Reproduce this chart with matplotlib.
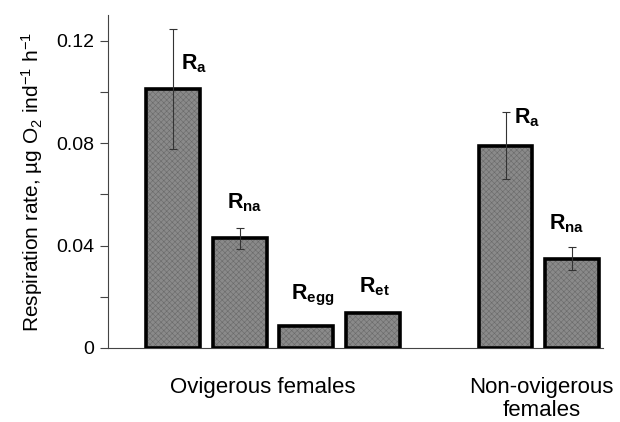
import numpy as np
import matplotlib.pyplot as plt

plt.rcParams['font.family'] = ['Liberation Sans', 'DejaVu Sans']
plt.rcParams['mathtext.fontset'] = 'custom'
plt.rcParams['mathtext.rm'] = 'Liberation Sans'
plt.rcParams['mathtext.it'] = 'Liberation Sans'
plt.rcParams['mathtext.bf'] = 'Liberation Sans:bold'
plt.rcParams['hatch.linewidth'] = 0.4

# data
positions = [0, 1, 2, 3, 5, 6]
rates = [0.101, 0.0428, 0.0084, 0.0136, 0.079, 0.0349]
errors = [0.0234, 0.0041, 0, 0, 0.013, 0.0045]
has_err = [True, True, False, False, True, True]
bar_labels = ['a', 'na', 'egg', 'et', 'a', 'na']
label_x = [0.32, 1.08, 2.10, 3.03, 5.33, 5.92]
label_y = [0.111, 0.0569, 0.0206, 0.0238, 0.090, 0.0487]
groups = ['Ovigerous females', 'Non-ovigerous\nfemales']
group_x = [1.35, 5.54]

fig = plt.figure(figsize=(6.2, 4.22), dpi=100)
ax = fig.add_axes([0.174, 0.1754, 0.799, 0.789])

ax.bar(positions, rates, width=0.81, color='#8a8a8a', edgecolor='#6a6a6a',
       hatch='xxxxxx', linewidth=0, zorder=2)
ax.bar(positions, rates, width=0.81, fill=False, edgecolor='black',
       linewidth=2.6, zorder=3)

ex = [p for p, h in zip(positions, has_err) if h]
ey = [r for r, h in zip(rates, has_err) if h]
ee = [e for e, h in zip(errors, has_err) if h]
ax.errorbar(ex, ey, yerr=ee, fmt='none', ecolor='#333333', elinewidth=0.8,
            capsize=3, capthick=0.8, zorder=4)

for x, y, s in zip(label_x, label_y, bar_labels):
    ax.text(x, y, r'$\mathbf{R_{' + s + '}}$', ha='center', va='center',
            fontsize=15.5)

for x, s in zip(group_x, groups):
    ax.text(x, -0.0112, s, ha='center', va='top', fontsize=16,
            linespacing=1.12, transform=ax.transData)

ax.set_xlim(-0.985, 6.47)
ax.set_ylim(0, 0.13)
ax.set_yticks(np.arange(0, 0.13, 0.02))
ax.set_yticklabels(['0', '', '0.04', '', '0.08', '', '0.12'], fontsize=14)
ax.set_xticks([])
ax.tick_params(axis='y', direction='out', length=6, width=0.8, color='#444444', pad=4)
ax.set_ylabel('Respiration rate, µg O$_2$ ind$^{-1}$ h$^{-1}$', fontsize=15, labelpad=8)

for s in ['top', 'right']:
    ax.spines[s].set_visible(False)
for s in ['left', 'bottom']:
    ax.spines[s].set_linewidth(0.8)
    ax.spines[s].set_color('#444444')

fig.savefig('out.png', dpi=100)
